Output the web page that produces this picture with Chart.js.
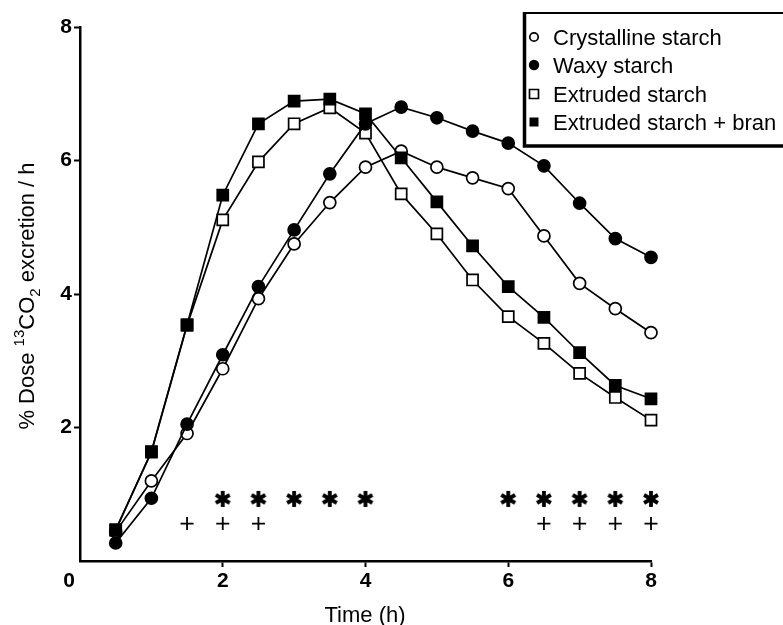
<!DOCTYPE html>
<html lang="en">
<head>
<meta charset="utf-8">
<title>13CO2 excretion after starch meals</title>
<script src="https://cdn.jsdelivr.net/npm/chart.js@4.4.1/dist/chart.umd.min.js"></script>
<style>
	body { margin: 0; background: #fff; }
	#wrap { width: 783px; height: 625px; }
</style>
</head>
<body>
<div id="wrap"><canvas id="chart" width="783" height="625"></canvas></div>
<script>
	// sampling times (h)
	var times = [0.5, 1, 1.5, 2, 2.5, 3, 3.5, 4, 4.5, 5, 5.5, 6, 6.5, 7, 7.5, 8];
	// % dose 13CO2 excretion / h
	var crystalline  = [0.44, 1.20, 1.91, 2.88, 3.93, 4.75, 5.37, 5.90, 6.14, 5.90, 5.74, 5.58, 4.87, 4.16, 3.78, 3.42];
	var waxy         = [0.27, 0.94, 2.05, 3.09, 4.11, 4.96, 5.80, 6.55, 6.80, 6.64, 6.44, 6.26, 5.92, 5.36, 4.83, 4.55];
	var extruded     = [0.47, 1.63, 3.53, 5.11, 5.98, 6.55, 6.79, 6.41, 5.50, 4.90, 4.21, 3.66, 3.26, 2.81, 2.45, 2.11];
	var extrudedBran = [0.46, 1.64, 3.54, 5.48, 6.55, 6.89, 6.92, 6.70, 6.04, 5.38, 4.72, 4.11, 3.65, 3.12, 2.63, 2.43];
	var seriesNames = ["Crystalline starch", "Waxy starch", "Extruded starch", "Extruded starch + bran"];

	// significance marks
	var starTimes = [2, 2.5, 3, 3.5, 4, 6, 6.5, 7, 7.5, 8];
	var plusTimes = [1.5, 2, 2.5, 6.5, 7, 7.5, 8];
	var starLevel = [0.93];
	var plusLevel = [0.56];

	// axis ticks
	var xTicks = [0, 2, 4, 6, 8];
	var yTicks = [0, 2, 4, 6, 8];

	var FONT = "'Liberation Sans', Arial, Helvetica, sans-serif";

	function pairs(xs, ys) {
		return xs.map(function (x, i) { return { x: x, y: ys.length == 1 ? ys[0] : ys[i] }; });
	}

	// bold six-armed asterisk used as a point style
	function makeStar() {
		var c = document.createElement("canvas");
		c.width = 18; c.height = 18;
		var g = c.getContext("2d");
		g.strokeStyle = "#000";
		g.lineWidth = 3.8;
		g.translate(9, 9);
		for (var k = 0; k < 3; k++) {
			var a = Math.PI / 2 + k * Math.PI / 3;
			g.beginPath();
			g.moveTo(-Math.cos(a) * 8, -Math.sin(a) * 8);
			g.lineTo(Math.cos(a) * 8, Math.sin(a) * 8);
			g.stroke();
		}
		return c;
	}

	function series(label, ys, style, filled, order) {
		return {
			label: label,
			data: pairs(times, ys),
			borderColor: "#000",
			borderWidth: 1.7,
			pointStyle: style,
			pointRadius: style == "rect" ? 7.8 : 6,
			pointBorderWidth: 1.7,
			pointBorderColor: "#000",
			pointBackgroundColor: filled ? "#000" : "#fff",
			tension: 0,
			clip: false,
			order: order
		};
	}

	// axis titles, the origin label and the framed legend
	var decorations = {
		id: "decorations",
		afterDraw: function (chart) {
			var ctx = chart.ctx;
			ctx.save();
			ctx.fillStyle = "#000";

			// origin "0"
			ctx.font = "bold 21px " + FONT;
			ctx.textAlign = "center";
			ctx.textBaseline = "middle";
			ctx.fillText("0", 69, 581);

			// x title
			ctx.font = "22px " + FONT;
			ctx.textBaseline = "alphabetic";
			ctx.fillText("Time (h)", 365, 622);

			// y title with super/subscripts
			var parts = [
				{ t: "% Dose ", f: "22px", dy: 0 },
				{ t: "13", f: "15px", dy: -10 },
				{ t: "CO", f: "22px", dy: 0 },
				{ t: "2", f: "15px", dy: 6 },
				{ t: " excretion / h", f: "22px", dy: 0 }
			];
			var total = 0;
			parts.forEach(function (p) { ctx.font = p.f + " " + FONT; p.w = ctx.measureText(p.t).width; total += p.w; });
			ctx.translate(34, 296);
			ctx.rotate(-Math.PI / 2);
			ctx.textAlign = "left";
			var x = -total / 2;
			parts.forEach(function (p) { ctx.font = p.f + " " + FONT; ctx.fillText(p.t, x, p.dy); x += p.w; });
			ctx.restore();

			// legend box
			ctx.save();
			ctx.fillStyle = "#fff";
			ctx.fillRect(523, 12, 270, 135);
			ctx.strokeStyle = "#000";
			ctx.lineWidth = 2;
			ctx.beginPath();
			ctx.moveTo(790, 13); ctx.lineTo(524, 13);
			ctx.stroke();
			ctx.lineWidth = 3.5;
			ctx.beginPath();
			ctx.moveTo(524.5, 12); ctx.lineTo(524.5, 146); ctx.lineTo(790, 146);
			ctx.stroke();

			var rows = [37, 65, 94, 122];
			ctx.font = "22px " + FONT;
			ctx.textAlign = "left";
			ctx.textBaseline = "alphabetic";
			ctx.lineWidth = 1.7;
			for (var i = 0; i < 4; i++) {
				var cy = rows[i];
				ctx.beginPath();
				if (i < 2) {
					ctx.arc(534, cy, i == 0 ? 4.2 : 5.2, 0, Math.PI * 2);
				} else {
					ctx.rect(529.5, cy - 4.5, 9, 9);
				}
				if (i % 2 == 1) { ctx.fillStyle = "#000"; ctx.fill(); }
				else { ctx.fillStyle = "#fff"; ctx.fill(); ctx.stroke(); }
				ctx.fillStyle = "#000";
				ctx.fillText(seriesNames[i], 553, cy + 8);
			}
			ctx.restore();
		}
	};

	var ctx = document.getElementById("chart").getContext("2d");
	var chart = new Chart(ctx, {
		type: "line",
		data: {
			datasets: [
				series(seriesNames[0], crystalline, "circle", false, 2),
				series(seriesNames[1], waxy, "circle", true, 1),
				series(seriesNames[2], extruded, "rect", false, 3),
				series(seriesNames[3], extrudedBran, "rect", true, 0),
				{
					label: "star",
					data: pairs(starTimes, starLevel),
					showLine: false,
					pointStyle: makeStar(),
					pointRadius: 9,
					clip: false,
					order: 5
				},
				{
					label: "plus",
					data: pairs(plusTimes, plusLevel),
					showLine: false,
					pointStyle: "cross",
					pointRadius: 6.5,
					pointBorderWidth: 1.8,
					pointBorderColor: "#000",
					clip: false,
					order: 5
				}
			]
		},
		options: {
			responsive: false,
			animation: false,
			layout: { padding: { left: 0, top: 27, right: 132, bottom: 0 } },
			plugins: {
				legend: { display: false },
				tooltip: { enabled: false }
			},
			scales: {
				x: {
					type: "linear",
					min: 0,
					max: 8,
					afterBuildTicks: function (s) { s.ticks = xTicks.map(function (v) { return { value: v }; }); },
					afterFit: function (s) { s.height = 64; },
					border: { display: true, color: "#000", width: 2.5 },
					grid: {
						drawOnChartArea: false,
						drawTicks: true,
						tickLength: 6,
						tickWidth: 2,
						tickColor: function (c) { return c.tick && c.tick.value === 0 ? "rgba(0,0,0,0)" : "#000"; }
					},
					ticks: {
						color: "#000",
						padding: 2,
						maxRotation: 0,
						font: { family: FONT, size: 21, weight: "bold" },
						callback: function (v) { return v === 0 ? "" : v; }
					}
				},
				y: {
					min: 0,
					max: 8,
					afterBuildTicks: function (s) { s.ticks = yTicks.map(function (v) { return { value: v }; }); },
					afterFit: function (s) { s.width = 80; },
					border: { display: true, color: "#000", width: 2.5 },
					grid: {
						drawOnChartArea: false,
						drawTicks: true,
						tickLength: 6,
						tickWidth: 2,
						tickColor: function (c) { return c.tick && c.tick.value === 0 ? "rgba(0,0,0,0)" : "#000"; }
					},
					ticks: {
						color: "#000",
						padding: 2,
						font: { family: FONT, size: 21, weight: "bold" },
						callback: function (v) { return v === 0 ? "" : v; }
					}
				}
			}
		},
		plugins: [decorations]
	});
</script>
</body>
</html>
